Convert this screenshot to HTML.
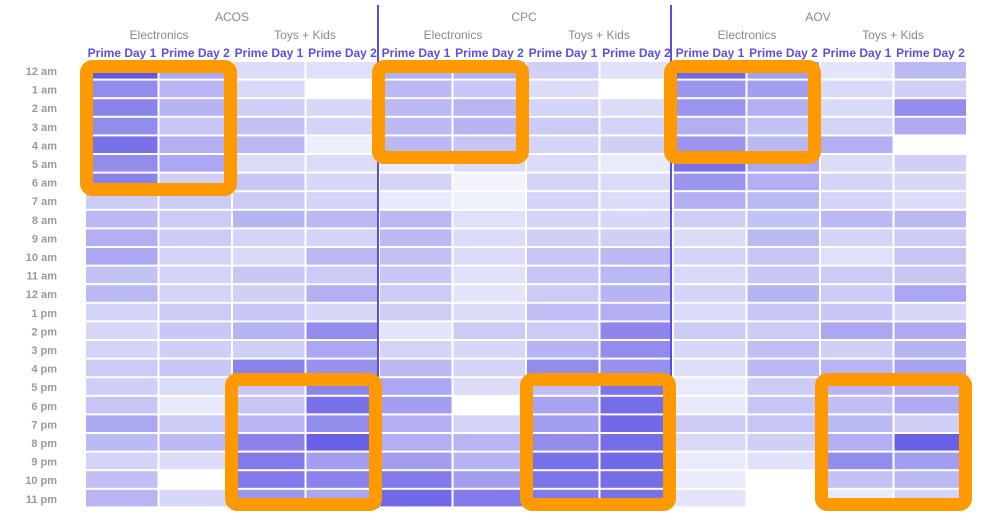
<!DOCTYPE html>
<html><head><meta charset="utf-8"><style>
html,body{margin:0;padding:0;background:#fff;width:982px;height:531px;overflow:hidden}
svg{display:block;font-family:"Liberation Sans",sans-serif}
</style></head><body>
<svg id="s" width="982" height="531" xmlns="http://www.w3.org/2000/svg">
<g font-size="12" fill="#8a8a8a" text-anchor="middle">
<text x="232" y="21">ACOS</text><text x="524" y="21">CPC</text><text x="818" y="21">AOV</text>
<text x="159" y="39">Electronics</text><text x="305" y="39">Toys + Kids</text>
<text x="453" y="39">Electronics</text><text x="599" y="39">Toys + Kids</text>
<text x="747" y="39">Electronics</text><text x="893" y="39">Toys + Kids</text>
</g>
<g id="cells"></g>
<g id="hdr" font-size="12" font-weight="bold" fill="#5a50e0" text-anchor="middle"></g>
<g id="rl" font-size="11" font-weight="bold" fill="#9a9a9a" text-anchor="end"></g>
<line x1="378" y1="5" x2="378" y2="508" stroke="#5a50e0" stroke-width="2"/>
<line x1="671" y1="5" x2="671" y2="508" stroke="#5a50e0" stroke-width="2"/>
<g fill="none" stroke="#ff9900" stroke-width="13">
<rect x="86.5" y="66.5" width="144" height="123" rx="6"/>
<rect x="378.5" y="66.5" width="144" height="91" rx="6"/>
<rect x="670.5" y="66.5" width="144" height="91" rx="6"/>
<rect x="231.5" y="379.5" width="144" height="125" rx="6"/>
<rect x="526.5" y="379.5" width="143" height="125" rx="6"/>
<rect x="821.5" y="379.5" width="144" height="125" rx="6"/>
</g>
</svg>
<script>
var D=[
[0.95,0.65,0.7,0.65,0.8,0.65,0.7,0.25,0.4,0.45,0.5,0.3,0.35,0.2,0.18,0.2,0.25,0.22,0.28,0.5,0.35,0.2,0.32,0.42],
[0.5,0.42,0.38,0.28,0.45,0.5,0.22,0.25,0.25,0.25,0.2,0.2,0.2,0.25,0.27,0.23,0.27,0.16,0.08,0.25,0.4,0.15,0,0.18],
[0.15,0.17,0.23,0.3,0.4,0.15,0.27,0.25,0.38,0.2,0.17,0.27,0.22,0.27,0.38,0.22,0.7,0.27,0.28,0.42,0.7,0.75,0.75,0.6],
[0.13,0,0.18,0.2,0.05,0.15,0.18,0.2,0.4,0.2,0.4,0.25,0.45,0.18,0.65,0.5,0.62,0.7,0.8,0.65,0.9,0.55,0.7,0.5],
[0.45,0.4,0.4,0.4,0.35,0.07,0.2,0.08,0.35,0.4,0.3,0.27,0.25,0.22,0.1,0.2,0.4,0.5,0.55,0.45,0.45,0.55,0.75,0.85],
[0.45,0.27,0.42,0.38,0.28,0.15,0.02,0.04,0.13,0.15,0.15,0.12,0.1,0.15,0.25,0.18,0.2,0.15,0,0.2,0.42,0.38,0.55,0.75],
[0.22,0.15,0.2,0.25,0.2,0.15,0.2,0.2,0.2,0.22,0.28,0.28,0.25,0.32,0.25,0.38,0.65,0.32,0.52,0.55,0.65,0.8,0.78,0.75],
[0.12,0,0.15,0.2,0.22,0.07,0.15,0.15,0.18,0.22,0.35,0.35,0.38,0.45,0.68,0.65,0.62,0.78,0.82,0.85,0.82,0.85,0.82,0.8],
[0.85,0.6,0.6,0.45,0.6,0.8,0.6,0.45,0.22,0.15,0.2,0.17,0.2,0.15,0.25,0.18,0.14,0.07,0.08,0.25,0.17,0.07,0.07,0.1],
[0.55,0.55,0.45,0.3,0.35,0.5,0.45,0.35,0.3,0.35,0.28,0.27,0.38,0.28,0.25,0.32,0.35,0.25,0.28,0.28,0.22,0.12,0,0],
[0.1,0.17,0.17,0.2,0.45,0.15,0.2,0.2,0.35,0.2,0.13,0.25,0.25,0.27,0.5,0.22,0.42,0.42,0.32,0.35,0.45,0.65,0.3,0.07],
[0.35,0.22,0.65,0.48,0,0.22,0.18,0.15,0.35,0.25,0.28,0.27,0.5,0.18,0.48,0.38,0.52,0.45,0.48,0.22,0.9,0.55,0.35,0.2]];
var ns="http://www.w3.org/2000/svg",c=document.getElementById('cells'),h=document.getElementById('hdr'),rl=document.getElementById('rl');
function mk(p,t,a,txt){var e=document.createElementNS(ns,t);for(var k in a)e.setAttribute(k,a[k]);if(txt)e.textContent=txt;p.appendChild(e);}
var labels=["12 am","1 am","2 am","3 am","4 am","5 am","6 am","7 am","8 am","9 am","10 am","11 am","12 am","1 pm","2 pm","3 pm","4 pm","5 pm","6 pm","7 pm","8 pm","9 pm","10 pm","11 pm"];
for(var k=0;k<12;k++){var x=86+73.5*k;
 mk(h,'text',{x:x+36,y:57},k%2?"Prime Day 2":"Prime Day 1");
 for(var i=0;i<24;i++){var v=D[k][i];
  var r=Math.round(255-(255-88)*v),g=Math.round(255-(255-78)*v),b=Math.round(255-(255-228)*v);
  if(v>0&&v<0.4){r-=10;g-=8;b-=2;}
  mk(c,'rect',{x:x,y:62+18.6*i,width:71.5,height:16.6,fill:'rgb('+r+','+g+','+b+')'});}}
for(var i=0;i<24;i++)mk(rl,'text',{x:57,y:75+18.6*i},labels[i]);
</script>
</body></html>
